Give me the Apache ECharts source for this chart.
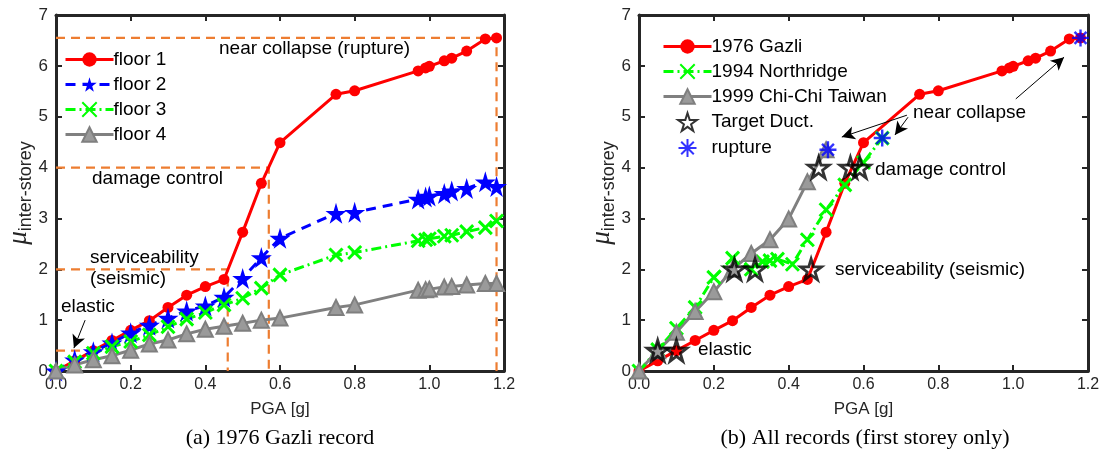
<!DOCTYPE html>
<html>
<head>
<meta charset="utf-8">
<script src="https://cdn.jsdelivr.net/npm/echarts@6/dist/echarts.min.js"></script>
<style>
  html, body { margin: 0; padding: 0; background: #fff; }
  #chart { width: 1103px; height: 462px; }
</style>
</head>
<body>
<div id="chart"></div>
<script>
// PGA steps of the Gazli record (shared by all four floors)
const pga = [0, 0.05, 0.1, 0.15, 0.2, 0.25, 0.3, 0.35, 0.4, 0.45, 0.5, 0.55, 0.6, 0.75, 0.8, 0.97, 0.99, 1.0, 1.04, 1.06, 1.1, 1.15, 1.18]
const floor1 = [0, 0.2, 0.4, 0.6, 0.8, 0.99, 1.25, 1.49, 1.66, 1.8, 2.73, 3.69, 4.49, 5.44, 5.51, 5.9, 5.96, 5.99, 6.1, 6.15, 6.29, 6.53, 6.55]
const floor2 = [0, 0.22, 0.38, 0.55, 0.75, 0.9, 1.04, 1.18, 1.28, 1.45, 1.82, 2.23, 2.61, 3.1, 3.12, 3.38, 3.42, 3.44, 3.49, 3.54, 3.59, 3.72, 3.63]
const floor3 = [0, 0.18, 0.35, 0.48, 0.58, 0.71, 0.87, 1.02, 1.15, 1.3, 1.43, 1.63, 1.89, 2.28, 2.33, 2.56, 2.58, 2.6, 2.65, 2.67, 2.74, 2.82, 2.95]
const floor4 = [0, 0.12, 0.22, 0.3, 0.41, 0.53, 0.61, 0.73, 0.82, 0.88, 0.94, 1.0, 1.04, 1.25, 1.3, 1.59, 1.6, 1.61, 1.65, 1.66, 1.69, 1.72, 1.72]

// first storey, other records
const northPga = [0, 0.05, 0.1, 0.15, 0.2, 0.25, 0.3, 0.33, 0.35, 0.37, 0.41, 0.45, 0.5, 0.55, 0.6, 0.65]
const northMu = [0, 0.42, 0.84, 1.25, 1.84, 2.22, 2.0, 2.15, 2.17, 2.2, 2.1, 2.58, 3.17, 3.66, 4.1, 4.58]
const chichiPga = [0, 0.05, 0.1, 0.15, 0.2, 0.25, 0.3, 0.35, 0.4, 0.45, 0.5]
const chichiMu = [0, 0.4, 0.76, 1.17, 1.56, 2.0, 2.31, 2.58, 2.99, 3.72, 4.35]

// target ductility hits and rupture points
const targetPga = [0.05, 0.1, 0.255, 0.31, 0.46, 0.48, 0.565, 0.59]
const targetMu = [0.4, 0.4, 2.0, 2.0, 2.0, 4.0, 4.0, 4.0]
const rupturePga = [1.18, 0.505, 0.65]
const ruptureMu = [6.55, 4.35, 4.58]

// limit states (left panel)
const limitPga = [0.1, 0.46, 0.57, 1.18]
const limitMu = [0.4, 2, 4, 6.55]

const xTicks = [0, 0.2, 0.4, 0.6, 0.8, 1.0, 1.2]
const yTicks = [0, 1, 2, 3, 4, 5, 6, 7]

const zip = (xs, ys) => xs.map((x, i) => [x, ys[i]])

const AX = '#262626'
const FONT = 'Liberation Sans, Arial, sans-serif'
const STAR = 'path://M50,0L61,35L98,35L68,57L79,91L50,70L21,91L32,57L2,35L39,35Z'
const CROSS = 'path://M0,0L10,10M10,0L0,10'
const ASTER = 'path://M5,0L5,10M0,5L10,5M1.5,1.5L8.5,8.5M8.5,1.5L1.5,8.5'

function xAxes (gi) {
  const base = {
    type: 'value', gridIndex: gi, min: 0, max: xTicks[xTicks.length - 1], interval: 0.2,
    axisLine: { show: true, onZero: false, lineStyle: { color: AX, width: 3 } },
    axisTick: { show: true, inside: true, length: 6, lineStyle: { color: AX, width: 2 } },
    splitLine: { show: false }
  }
  return [
    Object.assign({}, base, {
      position: 'bottom',
      name: 'PGA [g]', nameLocation: 'middle', nameGap: 30,
      nameTextStyle: { fontFamily: FONT, fontSize: 17, color: AX },
      axisLabel: { margin: 6, fontFamily: FONT, fontSize: 16, color: AX, formatter: v => v.toFixed(1) }
    }),
    Object.assign({}, base, { position: 'top', axisLabel: { show: false } })
  ]
}

function yAxes (gi) {
  const base = {
    type: 'value', gridIndex: gi, min: 0, max: yTicks[yTicks.length - 1], interval: 1,
    axisLine: { show: true, onZero: false, lineStyle: { color: AX, width: 3 } },
    axisTick: { show: true, inside: true, length: 6, lineStyle: { color: AX, width: 2 } },
    splitLine: { show: false }
  }
  return [
    Object.assign({}, base, {
      position: 'left',
      name: '{mu|μ}{sub|inter-storey}', nameLocation: 'middle', nameGap: 17, nameRotate: 90,
      nameTextStyle: {
        color: AX,
        rich: {
          mu: { fontFamily: 'Liberation Serif, serif', fontStyle: 'italic', fontSize: 27, color: AX },
          sub: { fontFamily: FONT, fontSize: 18, color: AX, padding: [13, 0, 0, 0] }
        }
      },
      axisLabel: { margin: 8, fontFamily: FONT, fontSize: 17, color: AX }
    }),
    Object.assign({}, base, { position: 'right', axisLabel: { show: false } })
  ]
}

function lineSeries (name, gi, data, color, dash, symbol, size, extra) {
  return Object.assign({
    name, type: 'line', xAxisIndex: gi * 2, yAxisIndex: gi * 2,
    data, symbol, symbolSize: size,
    lineStyle: { color, width: 3, type: dash },
    itemStyle: { color, borderColor: color, borderWidth: 0 },
    z: 3
  }, extra || {})
}

const crossStyle = { color: '#00ff00', borderColor: '#00ff00', borderWidth: 3 }
const triStyle = { color: '#9a9a9a', borderColor: '#7f7f7f', borderWidth: 2 }

const series = []

// limit state guide lines
limitPga.forEach((g, i) => {
  series.push({
    type: 'line', xAxisIndex: 0, yAxisIndex: 0, silent: true, symbol: 'none',
    data: [[0, limitMu[i]], [g, limitMu[i]], [g, 0]],
    lineStyle: { color: '#ED7D31', width: 2.2, type: [9, 6] }, z: 1
  })
})

series.push(lineSeries('floor 1', 0, zip(pga, floor1), '#ff0000', 'solid', 'circle', 11, {
  markLine: {
    silent: true, symbol: ['none', 'arrow'], symbolSize: [10, 13],
    lineStyle: { color: '#000', width: 1, type: 'solid' }, label: { show: false },
    data: [[{ coord: [0.078, 1.0] }, { coord: [0.048, 0.45] }]]
  }
}))
series.push(lineSeries('floor 2', 0, zip(pga, floor2), '#0000ff', [10, 7], STAR, 21))
series.push(lineSeries('floor 3', 0, zip(pga, floor3), '#00ff00', [10, 4, 2, 4], CROSS, 13, { itemStyle: crossStyle }))
series.push(lineSeries('floor 4', 0, zip(pga, floor4), '#808080', 'solid', 'triangle', 15, { itemStyle: triStyle }))

series.push(lineSeries('1976 Gazli', 1, zip(pga, floor1), '#ff0000', 'solid', 'circle', 11, {
  markLine: {
    silent: true, symbol: ['none', 'arrow'], symbolSize: [10, 13],
    lineStyle: { color: '#000', width: 1, type: 'solid' }, label: { show: false },
    data: [
      [{ coord: [0.716, 5.03] }, { coord: [0.542, 4.6] }],
      [{ coord: [0.719, 4.99] }, { coord: [0.684, 4.64] }],
      [{ coord: [1.007, 5.35] }, { coord: [1.136, 6.17] }]
    ]
  }
}))
series.push(lineSeries('1994 Northridge', 1, zip(northPga, northMu), '#00ff00', [10, 4, 2, 4], CROSS, 13, { itemStyle: crossStyle }))
series.push(lineSeries('1999 Chi-Chi Taiwan', 1, zip(chichiPga, chichiMu), '#808080', 'solid', 'triangle', 15, { itemStyle: triStyle }))
series.push({
  name: 'Target Duct.', type: 'scatter', xAxisIndex: 2, yAxisIndex: 2,
  data: zip(targetPga, targetMu), symbol: STAR, symbolSize: 21,
  itemStyle: { color: 'rgba(0,0,0,0)', borderColor: '#000', borderWidth: 2.8 }, z: 5
})
series.push({
  name: 'rupture', type: 'scatter', xAxisIndex: 2, yAxisIndex: 2,
  data: zip(rupturePga, ruptureMu), symbol: ASTER, symbolSize: 17,
  itemStyle: { color: '#0000ff', borderColor: '#0000ff', borderWidth: 2.4 }, z: 6
})

const txt = (x, y, text, extra) => ({
  type: 'text', x, y,
  style: Object.assign({ text, font: '19px ' + FONT, fill: '#000', verticalAlign: 'middle', align: 'left' }, extra || {})
})

const legendBase = {
  orient: 'vertical', itemWidth: 48, itemHeight: 18, itemGap: 6,
  lineStyle: { width: 3 },
  textStyle: { fontFamily: FONT, fontSize: 19, color: '#000', padding: [0, 0, 0, -5] }
}

const chart = echarts.init(document.getElementById('chart'), null, { renderer: 'canvas' })
chart.setOption({
  animation: false,
  backgroundColor: '#fff',
  grid: [
    { left: 56, top: 15, width: 448, height: 356 },
    { left: 639, top: 15, width: 449, height: 356 }
  ],
  xAxis: xAxes(0).concat(xAxes(1)),
  yAxis: yAxes(0).concat(yAxes(1)),
  legend: [
    Object.assign({}, legendBase, { data: ['floor 1', 'floor 2', 'floor 3', 'floor 4'], left: 59, top: 45 }),
    Object.assign({}, legendBase, {
      data: ['1976 Gazli', '1994 Northridge', '1999 Chi-Chi Taiwan', 'Target Duct.', 'rupture'],
      left: 657, top: 32
    })
  ],
  graphic: [
    txt(219, 49, 'near collapse (rupture)'),
    txt(92, 179, 'damage control'),
    txt(90, 258, 'serviceability'),
    txt(90, 279, '(seismic)'),
    txt(61, 307, 'elastic'),
    txt(913, 113, 'near collapse'),
    txt(875, 170, 'damage control'),
    txt(835, 270, 'serviceability (seismic)'),
    txt(698, 350, 'elastic'),
    txt(280, 438, '(a) 1976 Gazli record', { font: '22px Liberation Serif, serif', align: 'center' }),
    txt(865, 438, '(b) All records (first storey only)', { font: '22px Liberation Serif, serif', align: 'center' })
  ],
  series
})
</script>
</body>
</html>
